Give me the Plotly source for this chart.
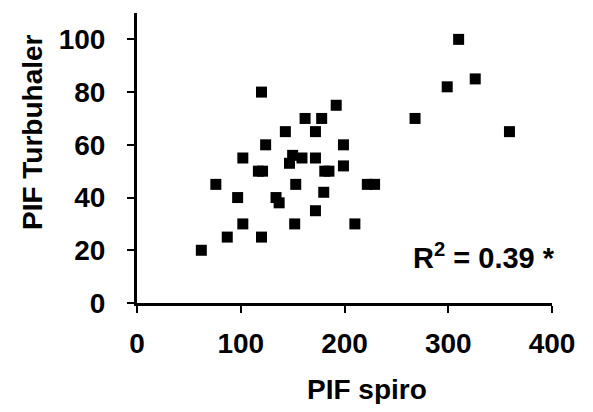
import plotly.graph_objects as go

# PIF spiro (x) vs PIF Turbuhaler (y)
pif_spiro = [62, 87, 76, 97, 102, 102, 120, 120, 117, 121, 124, 134, 137, 143,
             147, 150, 153, 152, 159, 162, 172, 178, 172, 172, 180, 181, 185,
             192, 199, 199, 210, 222, 229, 268, 299, 310, 326, 359]
pif_turbuhaler = [20, 25, 45, 40, 30, 55, 80, 25, 50, 50, 60, 40, 38, 65,
                  53, 56, 45, 30, 55, 70, 65, 70, 55, 35, 42, 50, 50,
                  75, 60, 52, 30, 45, 45, 70, 82, 100, 85, 65]

x_ticks = [0, 100, 200, 300, 400]
y_ticks = [0, 20, 40, 60, 80, 100]

font = "Liberation Sans, Arial, sans-serif"
txt = dict(family=font, size=28, color="black", weight="bold")

# the page body has an 8px margin, so the plot area (137..552, 13..303 on screen)
# is set up relative to that
def px(X):
    return (X - 137) / 415

def py(Y):
    return (303 - Y) / 290

fig = go.Figure()
fig.add_trace(go.Scatter(x=pif_spiro, y=pif_turbuhaler, mode="markers",
                         marker=dict(symbol="square", size=11, color="black"),
                         showlegend=False))

fig.update_xaxes(range=[0, 400], tickvals=x_ticks, showgrid=False, zeroline=False,
                 showline=True, linecolor="black", linewidth=3,
                 ticks="outside", ticklen=7, tickwidth=2, tickcolor="black",
                 ticklabelstandoff=6, tickfont=txt)
fig.update_yaxes(range=[0, 110], tickvals=y_ticks, showgrid=False, zeroline=False,
                 showline=True, linecolor="black", linewidth=3,
                 ticks="outside", ticklen=7, tickwidth=2, tickcolor="black",
                 ticklabelstandoff=16, tickfont=txt)

fig.add_annotation(text="PIF spiro", xref="paper", yref="paper",
                   x=px(367), y=py(389), xanchor="center", yanchor="middle",
                   showarrow=False, font=txt)
fig.add_annotation(text="PIF Turbuhaler", xref="paper", yref="paper",
                   x=px(32), y=py(132), xanchor="center", yanchor="middle",
                   textangle=-90, showarrow=False, font=txt)
fig.add_annotation(text="R<sup>2</sup> = 0.39 *", xref="paper", yref="paper",
                   x=px(557), y=py(256), xanchor="right", yanchor="middle",
                   showarrow=False, font=dict(txt, size=29))

fig.update_layout(width=577, height=396, plot_bgcolor="white", paper_bgcolor="white",
                  margin=dict(l=129, r=33, t=5, b=101))

fig.write_html("out.html")
